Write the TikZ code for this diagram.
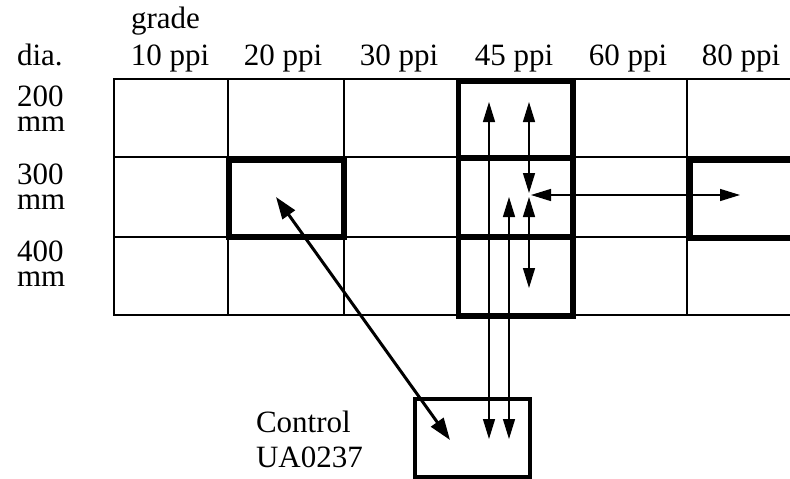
\documentclass[tikz,border=0pt]{standalone}
\usepackage{fontspec}
\setmainfont{Liberation Serif}
\usetikzlibrary{arrows.meta}
\begin{document}
\begin{tikzpicture}[x=1pt,y=-1pt,
  cell/.style={draw, line width=1.4pt, inner sep=0pt, outer sep=0pt},
  thickbox/.style={draw, line width=5.5pt},
  ctrlbox/.style={draw, line width=3.8pt},
  lbl/.style={font=\fontsize{31}{31}\selectfont, inner sep=0pt, outer sep=0pt},
  rowlbl/.style={font=\fontsize{31}{25}\selectfont, inner sep=0pt, outer sep=0pt, align=left, anchor=north west},
  arr/.style={line width=1.4pt, {Triangle[length=20pt,width=12pt]}-{Triangle[length=20pt,width=12pt]}},
  darr/.style={line width=3pt, {Triangle[length=22pt,width=15pt]}-{Triangle[length=22pt,width=15pt]}}]
\useasboundingbox (0,0) rectangle (790,479);
% grid cells
\foreach \c/\xa/\xb in {1/114/228, 2/228/344, 3/344/458, 4/458/575, 5/575/687, 6/687/800}{
  \foreach \r/\ya/\yb in {1/79/157, 2/157/237, 3/237/315}{
    \pgfmathsetmacro\w{\xb-\xa}
    \pgfmathsetmacro\h{\yb-\ya}
    \node[cell, minimum width=\w pt, minimum height=\h pt] (c\c\r) at ({(\xa+\xb)/2},{(\ya+\yb)/2}) {};
  }}
% thick boxes
\draw[thickbox] (229,160) rectangle (344,237);
\draw[thickbox] (458.5,81) rectangle (573,316);
\draw[thickbox] (458.5,158) -- (573,158);
\draw[thickbox] (458.5,237) -- (573,237);
\draw[thickbox] (690,160) rectangle (810,238);
% control box
\node[ctrlbox, minimum width=115pt, minimum height=78pt, inner sep=0pt] (ctrl) at (472.5,438) {};
% labels
\node[lbl, anchor=base west] (grade) at (131,28) {grade};
\node[lbl, anchor=base west] (dia) at (17,65) {dia.};
\node[lbl, anchor=base] (g10) at (170,65) {10 ppi};
\node[lbl, anchor=base] (g20) at (283,65) {20 ppi};
\node[lbl, anchor=base] (g30) at (399,65) {30 ppi};
\node[lbl, anchor=base] (g45) at (514,65) {45 ppi};
\node[lbl, anchor=base] (g60) at (628,65) {60 ppi};
\node[lbl, anchor=base] (g80) at (741,65) {80 ppi};
\node[rowlbl] (r200) at (17,86) {200\\mm};
\node[rowlbl] (r300) at (17,164) {300\\mm};
\node[rowlbl] (r400) at (17,241) {400\\mm};
\node[lbl, anchor=base west] (ctl) at (256,432) {Control};
\node[lbl, anchor=base west] (ua) at (256,467) {UA0237};
% arrow end points
\coordinate (a1t) at (489,102);
\coordinate (a1b) at (489,439);
\coordinate (a2t) at (509,197);
\coordinate (a2b) at (509,439);
\coordinate (a3t) at (529,102);
\coordinate (a3b) at (529,193);
\coordinate (a4t) at (529,197);
\coordinate (a4b) at (529,288);
\coordinate (h1) at (531,195);
\coordinate (h2) at (740,195);
\coordinate (d1) at (276,197);
\coordinate (d2) at (450,440);
% arrows
\draw[arr] (a1t) -- (a1b);
\draw[arr] (a2t) -- (a2b);
\draw[arr] (a3t) -- (a3b);
\draw[arr] (a4t) -- (a4b);
\draw[arr] (h1) -- (h2);
\draw[darr] (d1) -- (d2);
\end{tikzpicture}
\end{document}
